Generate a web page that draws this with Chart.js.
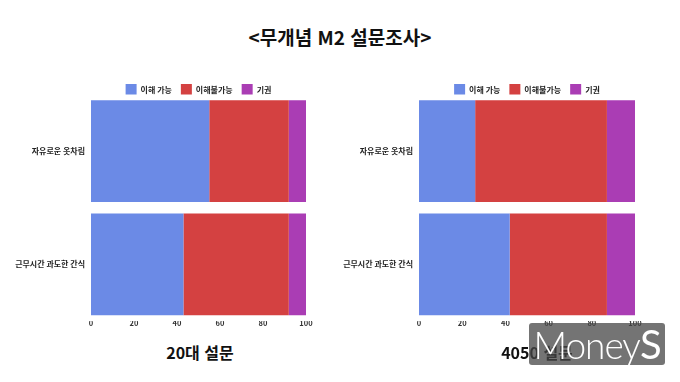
<!DOCTYPE html>
<html lang="ko">
<head>
<meta charset="utf-8">
<script src="https://cdn.jsdelivr.net/npm/chart.js@4.4.1/dist/chart.umd.min.js"></script>
<style>
  html, body { margin:0; padding:0; background:#fff; }
  body { width:680px; height:382px; position:relative; overflow:hidden; font-family:"Noto Sans CJK KR", sans-serif; }
  .title { position:absolute; left:0; width:680px; top:24px; text-align:center; font-size:19px; font-weight:700; color:#111; line-height:26px; }
  .sub { position:absolute; top:340px; font-size:16px; font-weight:700; color:#111; line-height:24px; text-align:center; width:200px; }
  .wrap { position:absolute; top:75px; width:330px; height:260px; }
  .wm { position:absolute; left:529px; top:323px; width:136px; height:42px; background:rgba(70,70,70,0.75); border-radius:3px; color:#fff; font-family:Lato, sans-serif; font-weight:300; font-size:37px; line-height:42px; text-align:center; letter-spacing:-1px; }
  .wm b { font-weight:400; font-size:40px; }
</style>
</head>
<body>
<div class="title">&lt;무개념 M2 설문조사&gt;</div>
<div class="wrap" style="left:0"><canvas id="c1" width="330" height="260"></canvas></div>
<div class="wrap" style="left:330px"><canvas id="c2" width="330" height="260"></canvas></div>
<div class="sub" style="left:100px">20대 설문</div>
<div class="sub" style="left:437px">4050 설문</div>
<div class="wm">Money<b>S</b></div>
<script>
const categories = ['자유로운 옷차림', '근무시간 과도한 간식'];
const seriesNames = ['이해 가능', '이해불가능', '기권'];
const young_understand = [55, 43];
const young_not = [37, 49];
const young_abstain = [8, 8];
const older_understand = [26, 42];
const older_not = [61, 45];
const older_abstain = [13, 13];
const xTicks = [0, 20, 40, 60, 80, 100];

const colors = ['#6b8ae6', '#d44141', '#aa3db4'];
const FONT = '"Noto Sans CJK KR", sans-serif';

const legendPatch = {
  id: 'legendPatch',
  beforeLayout(chart) {
    const lg = chart.legend;
    if (lg && !lg._patched) {
      const f = lg.fit;
      lg.fit = function () { f.call(this); this.height = 19.5; };
      lg._patched = true;
    }
  }
};

function makeChart(id, vals, yWidth, padRight) {
  return new Chart(document.getElementById(id), {
    type: 'bar',
    data: {
      labels: categories,
      datasets: vals.map((v, i) => ({
        label: seriesNames[i],
        data: v,
        backgroundColor: colors[i],
        borderWidth: 0,
        barPercentage: 1,
        categoryPercentage: 0.9
      }))
    },
    options: {
      indexAxis: 'y',
      responsive: false,
      animation: false,
      layout: { padding: { left: 0, right: padRight, top: 0, bottom: 0 } },
      plugins: {
        legend: {
          display: true,
          position: 'top',
          fullSize: false,
          labels: {
            boxWidth: 11, boxHeight: 11, padding: 9,
            color: '#222',
            font: { family: FONT, size: 8, weight: '700' }
          }
        },
        tooltip: { enabled: false }
      },
      scales: {
        x: {
          stacked: true, min: 0, max: 100,
          afterBuildTicks(scale) { scale.ticks = xTicks.map(v => ({ value: v })); },
          afterFit(scale) { scale.height = 14; },
          grid: { display: false, drawTicks: false },
          border: { display: false },
          ticks: { padding: -2, color: '#333', font: { family: FONT, size: 7.5, weight: '700' } }
        },
        y: {
          stacked: true,
          afterFit(scale) { scale.width = yWidth; },
          grid: { display: false, drawTicks: false },
          border: { display: false },
          ticks: { padding: 6, color: '#222', font: { family: FONT, size: 8, weight: '700' } }
        }
      }
    },
    plugins: [legendPatch]
  });
}

makeChart('c1', [young_understand, young_not, young_abstain], 91, 24);
makeChart('c2', [older_understand, older_not, older_abstain], 89, 25);
</script>
</body>
</html>
